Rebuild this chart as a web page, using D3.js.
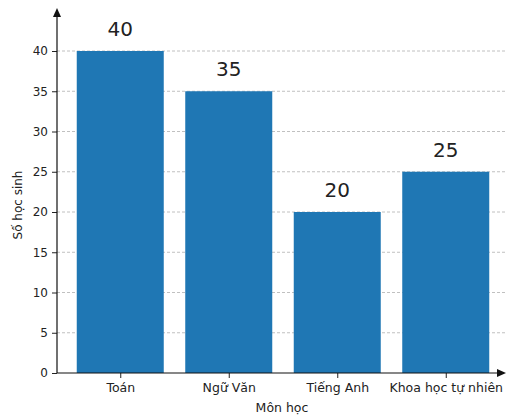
<!DOCTYPE html>
<html><head><meta charset="utf-8">
<script src="https://cdn.jsdelivr.net/npm/d3@7"></script>
<style>body{margin:0;background:#fff}svg{display:block;font-family:"DejaVu Sans",sans-serif}</style>
</head><body><svg id="c" width="506" height="415"></svg>
<script>
const categories = ["Toán", "Ngữ Văn", "Tiếng Anh", "Khoa học tự nhiên"];
const values = [40, 35, 20, 25];
const yTicks = [0, 5, 10, 15, 20, 25, 30, 35, 40];
const xLabel = "Môn học";
const yLabel = "Số học sinh";

const svg = d3.select("#c");
const x0 = 57, y0 = 373;
const x = d3.scaleLinear().domain([-0.5, 3.5]).range([66, 500]);
const bw = 87;
const y = d3.scaleLinear().domain([0, 40]).range([y0, 51]);

// grid
svg.append("g").selectAll("line").data(yTicks.filter(d => d > 0)).join("line")
  .attr("x1", x0).attr("x2", 506).attr("y1", d => y(d)).attr("y2", d => y(d))
  .attr("stroke", "#b0b0b0").attr("stroke-width", 0.8).attr("stroke-dasharray", "3,2");

// bars
svg.append("g").selectAll("rect").data(values).join("rect")
  .attr("x", (d, i) => x(i) - bw / 2).attr("width", bw)
  .attr("y", d => y(d)).attr("height", d => y0 - y(d))
  .attr("fill", "#1f77b4");

// value labels
svg.append("g").selectAll("text").data(values).join("text")
  .attr("x", (d, i) => x(i)).attr("y", d => y(d) - 15)
  .attr("text-anchor", "middle").attr("font-size", 20).attr("fill", "#222")
  .text(d => d);

// y axis
const ya = svg.append("g").attr("transform", `translate(${x0},0)`)
  .call(d3.axisLeft(y).tickValues(yTicks).tickSize(5).tickPadding(4));
ya.select(".domain").remove();
ya.selectAll("text").attr("font-size", 12).attr("fill", "#222").attr("font-family", "DejaVu Sans");
ya.selectAll("line").attr("stroke", "#222");

// x axis
const xa = svg.append("g").attr("transform", `translate(0,${y0})`)
  .call(d3.axisBottom(x).tickValues(d3.range(categories.length)).tickFormat(i => categories[i]).tickSize(5).tickPadding(5));
xa.select(".domain").remove();
xa.selectAll("text").attr("font-size", 12.5).attr("fill", "#222").attr("font-family", "DejaVu Sans");
xa.selectAll("line").attr("stroke", "#222");

// axis lines with arrows
svg.append("line").attr("x1", x0).attr("x2", x0).attr("y1", y0).attr("y2", 14).attr("stroke", "#111").attr("stroke-width", 1.2);
svg.append("path").attr("d", `M${x0},8 L${x0-4},17 L${x0+4},17 Z`).attr("fill", "#111");
svg.append("line").attr("x1", x0).attr("x2", 500).attr("y1", y0).attr("y2", y0).attr("stroke", "#111").attr("stroke-width", 1.2);
svg.append("path").attr("d", `M506,${y0} L497,${y0-4} L497,${y0+4} Z`).attr("fill", "#111");

// axis titles
svg.append("text").attr("x", 282).attr("y", 412).attr("text-anchor", "middle").attr("font-size", 12.5).attr("fill", "#222").text(xLabel);
svg.append("text").attr("transform", "translate(22,205) rotate(-90)").attr("text-anchor", "middle").attr("font-size", 12).attr("fill", "#222").text(yLabel);
</script></body></html>
